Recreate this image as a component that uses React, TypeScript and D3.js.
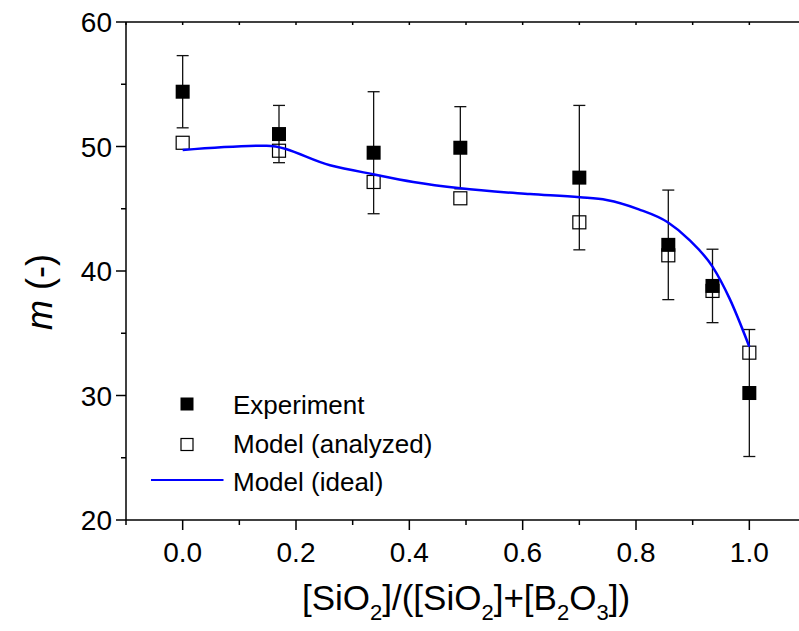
import React from "react";
import * as d3 from "d3";

const ratio = [0, 0.17, 0.337, 0.49, 0.70, 0.857, 0.935, 1.0];
const experiment = [54.4, 51.0, 49.5, 49.9, 47.5, 42.1, 38.8, 30.2];
const experimentErr = [2.9, 2.3, 4.9, 3.3, 5.8, 4.4, 2.95, 5.1];
const modelAnalyzed = [50.3, 49.66, 47.15, 45.84, 43.91, 41.26, 38.4, 33.44];

const idealX = [0, 0.148, 0.26, 0.336, 0.407, 0.49, 0.613, 0.701, 0.748, 0.805, 0.856, 0.894, 0.935, 0.965, 1.0];
const idealY = [49.72, 50.07, 48.5, 47.77, 47.15, 46.64, 46.18, 45.92, 45.7, 44.95, 43.91, 42.5, 40.35, 37.8, 33.92];

const xMajor = [0, 0.2, 0.4, 0.6, 0.8, 1.0];
const xMinor = [-0.1, 0.1, 0.3, 0.5, 0.7, 0.9];
const yMajor = [20, 30, 40, 50, 60];
const yMinor = [25, 35, 45, 55];
const topTicks = [-0.1, 0, 0.1, 0.2, 0.3, 0.4, 0.5, 0.6, 0.7, 0.8, 0.9, 1.0];

const FONT = "'Liberation Sans', Arial, Helvetica, sans-serif";

export default function App() {
  const W = 799, H = 631;
  const left = 126, right = 806, top = 22, bottom = 520;
  const x = d3.scaleLinear().domain([-0.1, 1.1]).range([left, right]);
  const y = d3.scaleLinear().domain([20, 60]).range([bottom, top]);

  const line = d3
    .line<number>()
    .x((_, i) => x(idealX[i]))
    .y((d) => y(d))
    .curve(d3.curveMonotoneX);

  const ms = 14;
  const cap = 6;

  return (
    <svg
      width={W}
      height={H}
      style={{ position: "absolute", left: 0, top: 0, background: "#fff" }}
      fontFamily={FONT}
    >
      <rect width={W} height={H} fill="#fff" />
      {/* axes */}
      <line x1={left} x2={right} y1={bottom} y2={bottom} stroke="#000" strokeWidth={1.5} />
      <line x1={left} x2={right} y1={top} y2={top} stroke="#000" strokeWidth={1.5} />
      <line x1={left} x2={left} y1={top} y2={bottom} stroke="#000" strokeWidth={1.5} />
      <line x1={right} x2={right} y1={top} y2={bottom} stroke="#000" strokeWidth={1.5} />
      {xMajor.map((t) => (
        <g key={"xM" + t}>
          <line x1={x(t)} x2={x(t)} y1={bottom} y2={bottom + 10} stroke="#000" strokeWidth={1.5} />
          <text x={x(t)} y={562} textAnchor="middle" fontSize={28}>
            {t.toFixed(1)}
          </text>
        </g>
      ))}
      {xMinor.map((t) => (
        <line key={"xm" + t} x1={x(t)} x2={x(t)} y1={bottom} y2={bottom + 5} stroke="#000" strokeWidth={1.5} />
      ))}
      {topTicks.map((t) => (
        <line key={"xt" + t} x1={x(t)} x2={x(t)} y1={top} y2={top + 3} stroke="#000" strokeWidth={1.5} />
      ))}
      {yMajor.map((t) => (
        <g key={"yM" + t}>
          <line x1={left - 10} x2={left} y1={y(t)} y2={y(t)} stroke="#000" strokeWidth={1.5} />
          <text x={112} y={y(t)} dy="0.36em" textAnchor="end" fontSize={28}>
            {t}
          </text>
        </g>
      ))}
      {yMinor.map((t) => (
        <line key={"ym" + t} x1={left - 5} x2={left} y1={y(t)} y2={y(t)} stroke="#000" strokeWidth={1.5} />
      ))}

      {/* axis titles */}
      <text x={466} y={610} textAnchor="middle" fontSize={35}>
        [SiO<tspan fontSize={22} dy={10}>2</tspan>
        <tspan dy={-10}>]/([SiO</tspan>
        <tspan fontSize={22} dy={10}>2</tspan>
        <tspan dy={-10}>]+[B</tspan>
        <tspan fontSize={22} dy={10}>2</tspan>
        <tspan dy={-10}>O</tspan>
        <tspan fontSize={22} dy={10}>3</tspan>
        <tspan dy={-10}>])</tspan>
      </text>
      <text transform={`translate(52, 292) rotate(-90)`} textAnchor="middle" fontSize={36}>
        <tspan fontStyle="italic">m</tspan> (-)
      </text>

      {/* error bars */}
      {ratio.map((r, i) => {
        const cx = x(r);
        const y1 = y(experiment[i] + experimentErr[i]);
        const y2 = y(experiment[i] - experimentErr[i]);
        return (
          <g key={"e" + i} stroke="#111" strokeWidth={1.3}>
            <line x1={cx} x2={cx} y1={y1} y2={y2} />
            <line x1={cx - cap} x2={cx + cap} y1={y1} y2={y1} />
            <line x1={cx - cap} x2={cx + cap} y1={y2} y2={y2} />
          </g>
        );
      })}
      {/* model analyzed (open) */}
      {ratio.map((r, i) => (
        <rect
          key={"m" + i}
          x={x(r) - ms / 2 + 0.5}
          y={y(modelAnalyzed[i]) - ms / 2 + 0.5}
          width={ms - 1}
          height={ms - 1}
          fill="none"
          stroke="#000"
          strokeWidth={1.2}
        />
      ))}
      {/* experiment (filled) */}
      {ratio.map((r, i) => (
        <rect
          key={"x" + i}
          x={x(r) - ms / 2}
          y={y(experiment[i]) - ms / 2}
          width={ms}
          height={ms}
          fill="#000"
        />
      ))}
      {/* ideal model line */}
      <path d={line(idealY) || ""} fill="none" stroke="#0000ff" strokeWidth={2.5} />

      {/* legend */}
      <rect x={187 - 6.5} y={404 - 6.5} width={13} height={13} fill="#000" />
      <text x={233} y={413.5} fontSize={26}>Experiment</text>
      <rect x={187 - 6} y={444.5 - 6} width={12} height={12} fill="#fff" stroke="#000" strokeWidth={1.2} />
      <text x={233} y={453} fontSize={26}>Model (analyzed)</text>
      <line x1={151} x2={223.5} y1={480} y2={480} stroke="#0000ff" strokeWidth={2} />
      <text x={233} y={491} fontSize={26}>Model (ideal)</text>
    </svg>
  );
}
